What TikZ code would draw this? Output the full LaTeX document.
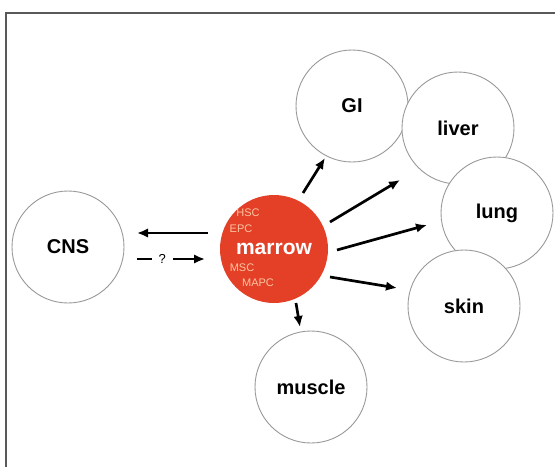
\documentclass[tikz,border=0pt]{standalone}
\usepackage{fontspec}
\setmainfont{Liberation Sans}
\usetikzlibrary{calc,arrows.meta}
\definecolor{marrowred}{RGB}{228,64,40}
\definecolor{celltext}{RGB}{250,196,160}
\begin{document}
\begin{tikzpicture}[x=1pt,y=-1pt,
    organ/.style={circle,draw=black!40,line width=0.9pt,fill=white,minimum size=112pt,
        font=\fontsize{20}{24}\selectfont\bfseries},
    arr/.style={line width=2.7pt,-{Latex[length=11pt,width=9.5pt]}},
    cell/.style={text=celltext,font=\fontsize{11}{12}\selectfont,inner sep=0pt}]
        \useasboundingbox (0,0) rectangle (555,467);
        \draw[black!65,line width=1.2pt] (6,467) -- (6,13) -- (555,13);
        \node[organ] (cns) at (68,247) {CNS};
        \node[organ] (gi) at (352,106) {GI};
        \node[organ] (liver) at (458,128) {liver};
        \node[organ] (lung) at (497,213) {lung};
        \node[organ] (skin) at (464,306) {skin};
        \node[organ] (muscle) at (311,387) {muscle};
        \node[circle,fill=marrowred,minimum size=108pt,text=white,
            font=\fontsize{21}{24}\selectfont\bfseries] (marrow) at (274,249) {marrow};
        \node[cell] at ($(marrow)+(-26,-36)$) {HSC};
        \node[cell] at ($(marrow)+(-33,-20)$) {EPC};
        \node[cell] at ($(marrow)+(-32,19)$) {MSC};
        \node[cell] at ($(marrow)+(-16,34)$) {MAPC};
        \draw[arr] ($(marrow)+(29,-56)$) -- ($(gi)+(-27,52)$);
        \draw[arr] ($(marrow)+(56,-27)$) -- ($(liver)+(-58,52)$);
        \draw[arr] ($(marrow)+(63,1)$) -- ($(lung)+(-70,12)$);
        \draw[arr] ($(marrow)+(56,28)$) -- ($(skin)+(-67,-18)$);
        \draw[arr] ($(marrow)+(22,54)$) -- ($(muscle)+(-11,-60)$);
        \draw[arr] ($(marrow)+(-66,-16)$) -- ($(cns)+(69,-14)$);
        \draw[arr] ($(cns)+(69,12)$) -- node[pos=0.37,fill=white,inner xsep=7pt,inner ysep=1pt,
            font=\fontsize{13}{14}\selectfont] {?} ($(marrow)+(-69,10)$);
    \end{tikzpicture}
\end{document}
